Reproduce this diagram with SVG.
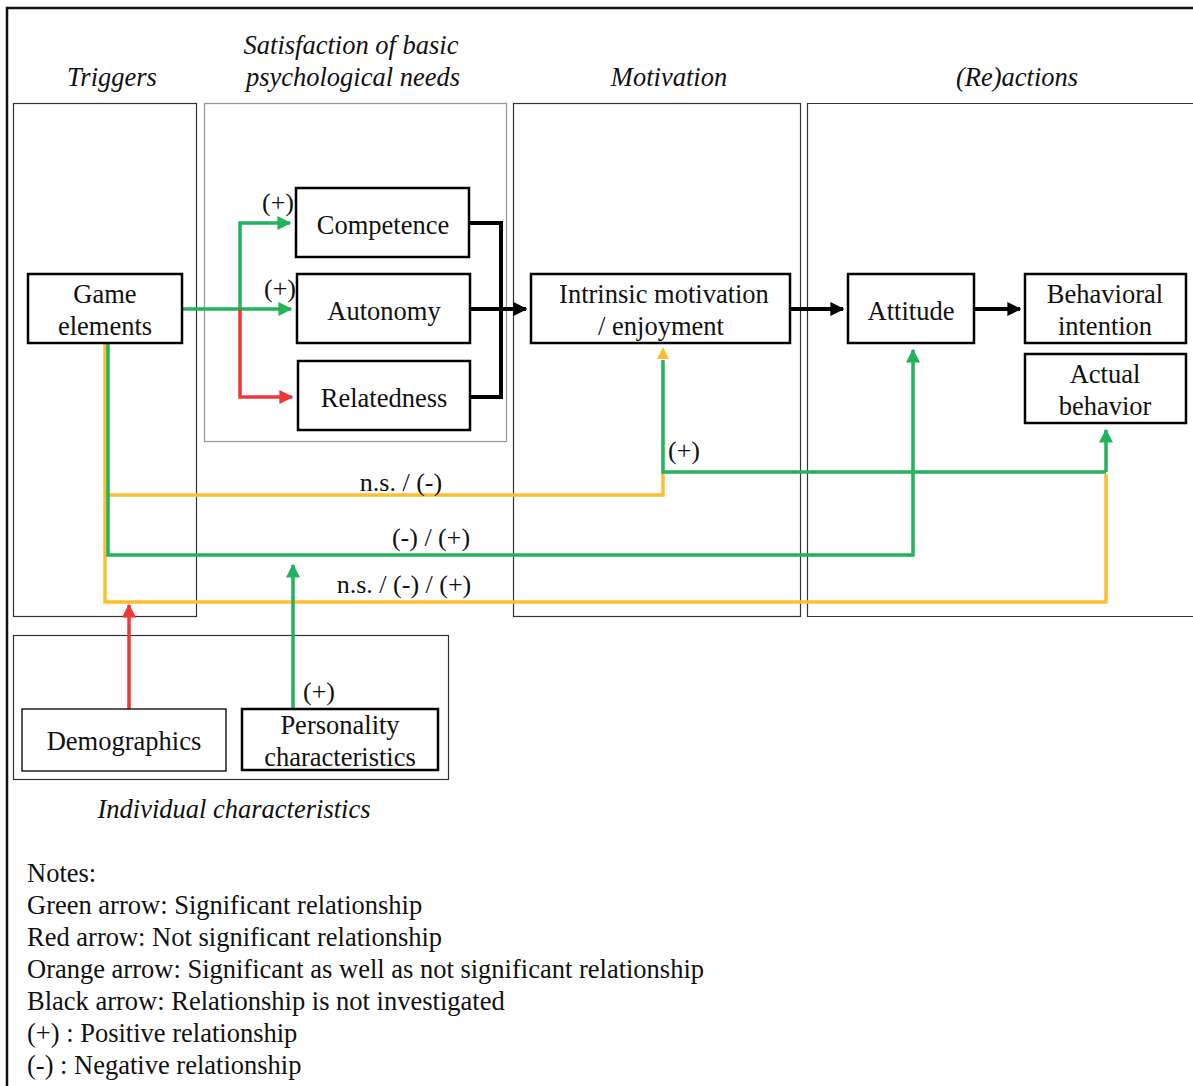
<svg xmlns="http://www.w3.org/2000/svg" width="1193" height="1086" viewBox="0 0 1193 1086">
<defs>
<style>
text{font-family:'Liberation Serif',serif;fill:#111;}
.t{font-size:26.5px;text-anchor:middle;}
.h{font-size:26.5px;font-style:italic;text-anchor:middle;}
.n{font-size:26.5px;}
.l{font-size:26px;text-anchor:middle;}
.sec{fill:none;stroke:#333;stroke-width:1.2;}
.node{fill:#fff;stroke:#000;stroke-width:2.5;}
.thin{fill:#fff;stroke:#000;stroke-width:1.3;}
.g{fill:none;stroke:#22b35c;stroke-width:3.5;}
.r{fill:none;stroke:#ef3737;stroke-width:3.5;}
.o{fill:none;stroke:#fdbf2d;stroke-width:3.5;}
.k{fill:none;stroke:#000;stroke-width:4;}
</style>
<marker id="ag" viewBox="0 0 10 10" refX="9" refY="5" markerWidth="4" markerHeight="4" orient="auto" markerUnits="strokeWidth"><path d="M0,0L10,5L0,10z" fill="#22b35c"/></marker>
<marker id="ar" viewBox="0 0 10 10" refX="9" refY="5" markerWidth="4" markerHeight="4" orient="auto" markerUnits="strokeWidth"><path d="M0,0L10,5L0,10z" fill="#ef3737"/></marker>
<marker id="ak" viewBox="0 0 10 10" refX="9" refY="5" markerWidth="3.5" markerHeight="3.5" orient="auto" markerUnits="strokeWidth"><path d="M0,0L10,5L0,10z" fill="#000"/></marker>
</defs>
<rect width="1193" height="1086" fill="#fff"/>
<path d="M7,1086V8H1193" fill="none" stroke="#111" stroke-width="2.5"/>

<g id="sections">
<rect class="sec" x="13.5" y="103.5" width="183" height="513"/>
<rect x="204.5" y="103.5" width="302" height="338" fill="none" stroke="#999" stroke-width="1.3"/>
<rect class="sec" x="513.5" y="103.5" width="287" height="513"/>
<path class="sec" d="M1193,103.5H807.5V616.5H1193"/>
<rect class="sec" x="13.5" y="635.5" width="435" height="144"/>
<text class="h" x="112" y="86">Triggers</text>
<text class="h" x="351" y="54">Satisfaction of basic</text>
<text class="h" x="353" y="86">psychological needs</text>
<text class="h" x="669" y="86">Motivation</text>
<text class="h" x="1017" y="86">(Re)actions</text>
<text class="h" x="234" y="818">Individual characteristics</text>
</g>

<g id="connectors">
<path class="o" d="M105,343V602H1106V474"/>
<path class="o" d="M105,495H663V472"/>
<path class="g" d="M108,343V555H913V350" marker-end="url(#ag)"/>
<path class="g" d="M1106,472V430" marker-end="url(#ag)"/>
<path class="g" d="M1106,472H663V360"/>
<path d="M657,359L663,347L669,359z" fill="#fdbf2d"/>
<path class="g" d="M182,309H291" marker-end="url(#ag)"/>
<path class="g" d="M240,309V223H290" marker-end="url(#ag)"/>
<path class="r" d="M240,309V397H292" marker-end="url(#ar)"/>
<path class="k" d="M469,223H501V397H470"/>
<path class="k" d="M470,309H526" marker-end="url(#ak)"/>
<path class="k" d="M790,309H843" marker-end="url(#ak)"/>
<path class="k" d="M974,309H1020" marker-end="url(#ak)"/>
<path class="r" d="M129,709V605" marker-end="url(#ar)"/>
<path class="g" d="M293,709V565" marker-end="url(#ag)"/>
<text class="l" x="278" y="211">(+)</text>
<text class="l" x="280" y="297">(+)</text>
<text class="l" x="684" y="459">(+)</text>
<text class="l" x="401" y="491">n.s. / (-)</text>
<text class="l" x="431" y="546">(-) / (+)</text>
<text class="l" x="404" y="593">n.s. / (-) / (+)</text>
<text class="l" x="319" y="700">(+)</text>
</g>

<g id="game-elements"><rect class="node" x="28" y="274" width="154" height="69"/><text class="t" x="105" y="303">Game</text><text class="t" x="105" y="335">elements</text></g>
<g id="competence"><rect class="node" x="296" y="188" width="173" height="69"/><text class="t" x="383" y="234">Competence</text></g>
<g id="autonomy"><rect class="node" x="297" y="274" width="173" height="69"/><text class="t" x="384" y="320">Autonomy</text></g>
<g id="relatedness"><rect class="node" x="298" y="361" width="172" height="69"/><text class="t" x="384" y="407">Relatedness</text></g>
<g id="intrinsic"><rect class="node" x="531" y="274" width="259" height="69"/><text class="t" x="664" y="303">Intrinsic motivation</text><text class="t" x="661" y="335">/ enjoyment</text></g>
<g id="attitude"><rect class="node" x="848" y="274" width="126" height="69"/><text class="t" x="911" y="320">Attitude</text></g>
<g id="behavioral-intention"><rect class="node" x="1025" y="274" width="161" height="69"/><text class="t" x="1105" y="303">Behavioral</text><text class="t" x="1105" y="335">intention</text></g>
<g id="actual-behavior"><rect class="node" x="1025" y="354" width="161" height="69"/><text class="t" x="1105" y="383">Actual</text><text class="t" x="1105" y="415">behavior</text></g>
<g id="demographics"><rect class="thin" x="22" y="709" width="204" height="62"/><text class="t" x="124" y="750">Demographics</text></g>
<g id="personality"><rect class="node" x="242" y="709" width="196" height="61"/><text class="t" x="340" y="734">Personality</text><text class="t" x="340" y="766">characteristics</text></g>

<g id="notes">
<text class="n" x="27" y="882">Notes:</text>
<text class="n" x="27" y="914">Green arrow: Significant relationship</text>
<text class="n" x="27" y="946">Red arrow: Not significant relationship</text>
<text class="n" x="27" y="978">Orange arrow: Significant as well as not significant relationship</text>
<text class="n" x="27" y="1010">Black arrow: Relationship is not investigated</text>
<text class="n" x="27" y="1042">(+) : Positive relationship</text>
<text class="n" x="27" y="1074">(-) : Negative relationship</text>
</g>
</svg>
